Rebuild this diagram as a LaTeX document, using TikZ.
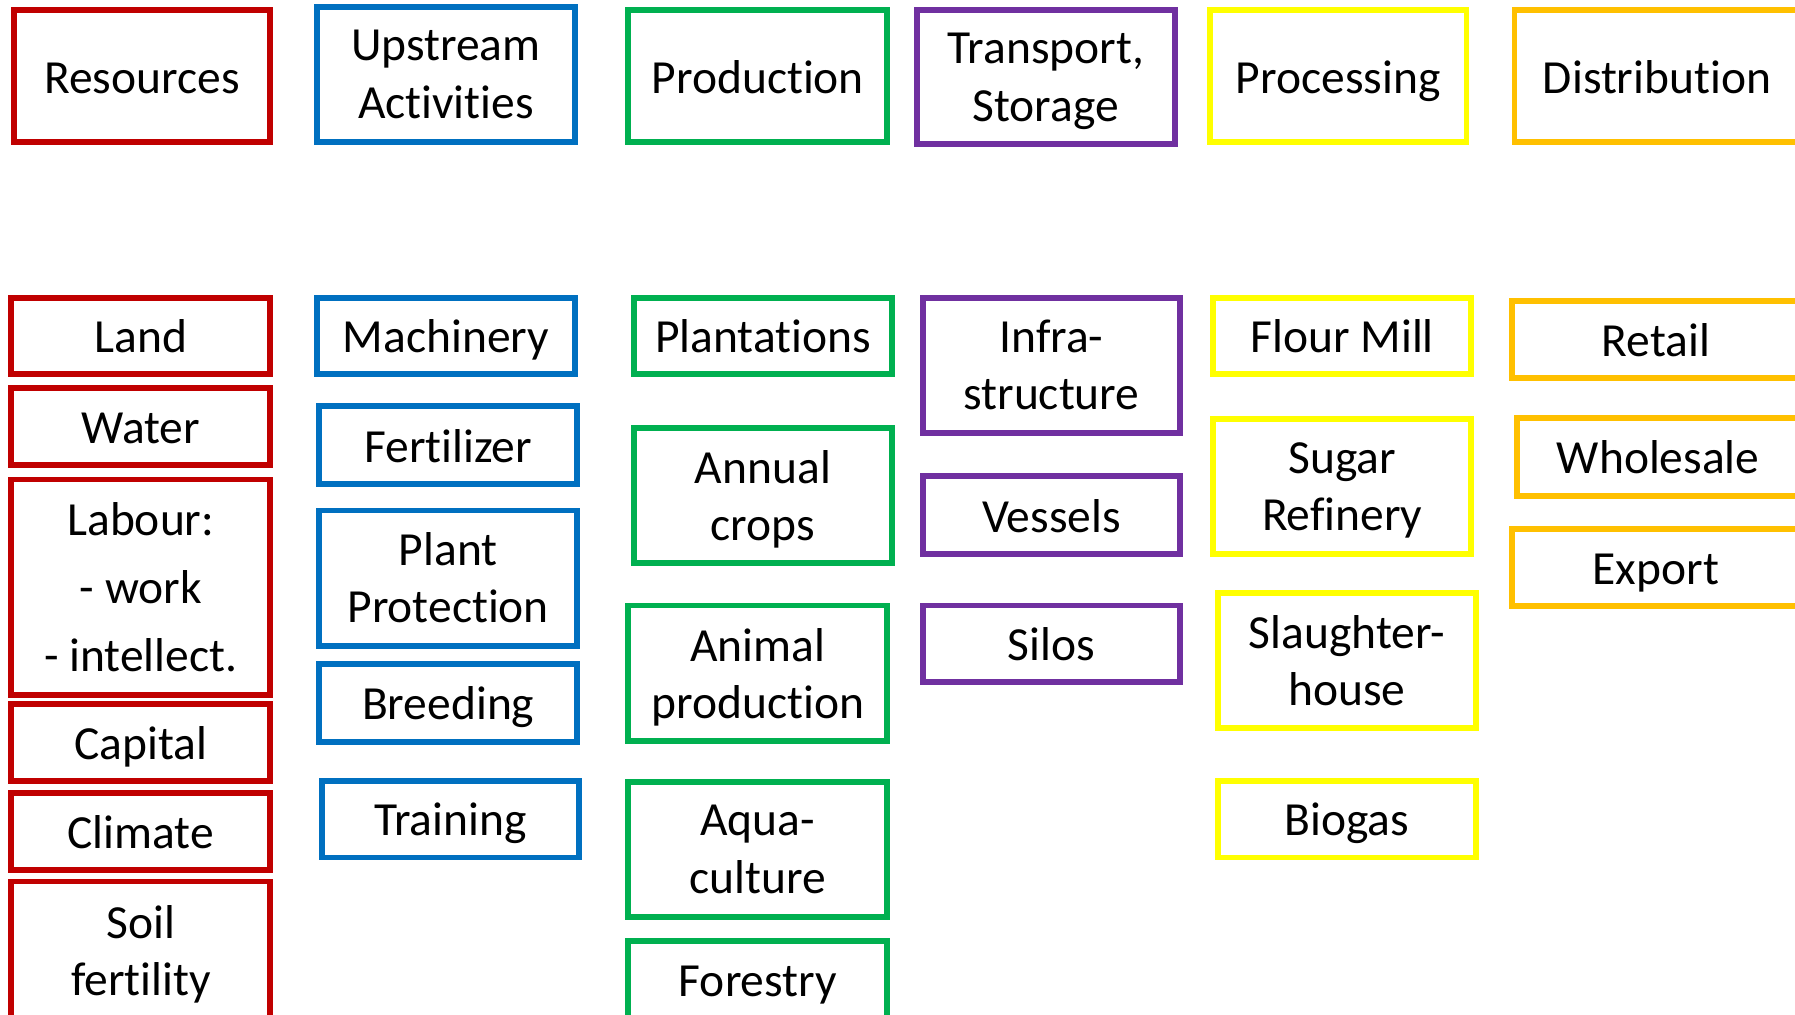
\documentclass[tikz,border=0pt]{standalone}
\usepackage{fontspec}
\setmainfont{Carlito}[Ligatures={NoCommon}]
\definecolor{cred}{HTML}{C00000}
\definecolor{cblue}{HTML}{0070C0}
\definecolor{cgreen}{HTML}{00B050}
\definecolor{cpurple}{HTML}{7030A0}
\definecolor{cyellow}{HTML}{FFFF00}
\definecolor{corange}{HTML}{FFC000}
\newcommand{\sm}[1]{\smash[b]{#1}}
\tikzset{
  box/.style={draw=#1, line width=1.45pt, inner sep=0pt, align=center, fill=white,
    font=\fontsize{11.8}{14.2}\selectfont, text=black},
  sz/.style 2 args={minimum width=#1cm, minimum height=#2cm},
  one/.style={text height=8.4pt, text depth=0pt},
}
\usepackage{amsmath}
\begin{document}
\begin{tikzpicture}[x=0.01cm,y=-0.01cm]
\useasboundingbox (0,0) rectangle (1568,886);
\begin{scope}
\clip (0,0) rectangle (1568,886);
% headers
\node[box=cred,   one, sz={2.24}{1.15}] (res)   at (124,66.5)   {Resources};
\node[box=cblue,       sz={2.25}{1.18}] (ups)   at (389.5,65)   {Upstream\\Activities};
\node[box=cgreen, one, sz={2.26}{1.15}] (prod)  at (662,66.5)   {Production};
\node[box=cpurple,     sz={2.25}{1.17}] (trans) at (913.5,67.5) {Transport,\\\sm{Storage}};
\node[box=cyellow,one, sz={2.24}{1.15}] (proc)  at (1169,66.5)  {Processing};
\node[box=corange,one, sz={2.49}{1.15}] (dist)  at (1447.5,66.5){Distribution};
% resources
\node[box=cred, one, sz={2.26}{0.67}] (land)    at (123,293.5) {Land};
\node[box=cred, one, sz={2.26}{0.67}] (water)   at (123,372.5) {Water};
\node[box=cred, sz={2.26}{1.88}, font=\fontsize{11.8}{17}\selectfont] (labour) at (123,513) {Labour:\\- work\\- intellect.};
\node[box=cred, one, sz={2.26}{0.67}] (capital) at (123,648.5) {Capital};
\node[box=cred, one, sz={2.26}{0.67}] (climate) at (123,726.5) {Climate};
\node[box=cred, sz={2.26}{1.20}] (soil)    at (123,830)   {Soil\\\sm{fertility}};
% upstream
\node[box=cblue, one, sz={2.25}{0.67}] (mach)  at (389.5,293.5) {Machinery};
\node[box=cblue, one, sz={2.25}{0.68}] (fert)  at (391.5,389)   {Fertilizer};
\node[box=cblue,      sz={2.25}{1.18}] (pprot) at (391.5,505)   {Plant\\Protection};
\node[box=cblue, one, sz={2.25}{0.68}] (breed) at (391.5,614)   {Breeding};
\node[box=cblue, one, sz={2.25}{0.67}] (train) at (393.5,715.5) {Training};
% production
\node[box=cgreen, one, sz={2.25}{0.67}] (plant)  at (666.5,293.5) {Plantations};
\node[box=cgreen,      sz={2.25}{1.18}] (annual) at (666.5,433)   {Annual\\\sm{crops}};
\node[box=cgreen,      sz={2.26}{1.18}] (animal) at (662,588)     {Animal\\\sm{production}};
\node[box=cgreen,      sz={2.26}{1.18}] (aqua)   at (662,742)     {Aqua-\\culture};
\node[box=cgreen, one, sz={2.26}{0.68}] (forest) at (662,856)     {Forestry};
% transport
\node[box=cpurple,      sz={2.25}{1.18}] (infra)   at (918.5,319)   {Infra-\\structure};
\node[box=cpurple, one, sz={2.25}{0.68}] (vessels) at (918.5,450)   {Vessels};
\node[box=cpurple, one, sz={2.25}{0.67}] (silos)   at (918.5,562.5) {Silos};
% processing
\node[box=cyellow, one, sz={2.25}{0.67}] (flour)  at (1172.5,293.5) {Flour Mill};
\node[box=cyellow,      sz={2.25}{1.18}] (sugar)  at (1172.5,425)   {Sugar\\\sm{Refinery}};
\node[box=cyellow,      sz={2.25}{1.18}] (slaugh) at (1176.5,577)   {Slaughter-\\house};
\node[box=cyellow, one, sz={2.25}{0.67}] (biogas) at (1176.5,715.5) {Biogas};
% distribution
\node[box=corange, one, sz={2.51}{0.67}] (retail)    at (1446.5,296.5) {Retail};
\node[box=corange, one, sz={2.47}{0.68}] (wholesale) at (1448.5,399)   {Wholesale};
\node[box=corange, one, sz={2.51}{0.67}] (export)    at (1446.5,495.5) {Export};
\end{scope}
\end{tikzpicture}
\end{document}
